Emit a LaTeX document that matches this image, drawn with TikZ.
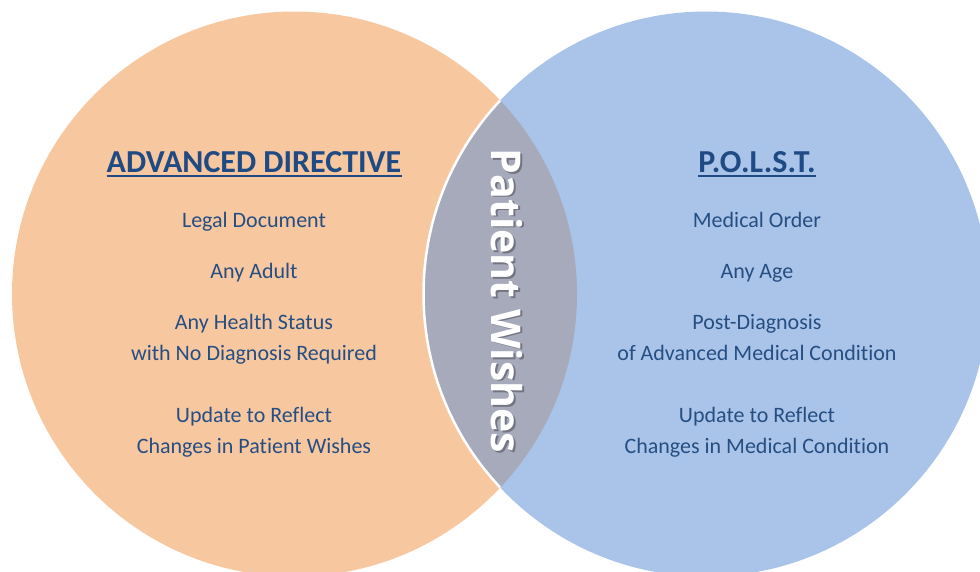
\documentclass[tikz,border=0pt]{standalone}
\usepackage{fontspec}
\setmainfont{Carlito}[Ligatures=NoCommon]
\newfontfamily\wishfont{Open Sans}
\definecolor{adfill}{HTML}{F7C8A0}
\definecolor{polstfill}{HTML}{A9C4E8}
\definecolor{lensfill}{HTML}{A6AABB}
\definecolor{titleblue}{HTML}{1F4A84}
\definecolor{bodyblue}{HTML}{264E82}
\begin{document}
\begin{tikzpicture}[x=1pt,y=-1pt,
  head/.style={font=\fontsize{32}{38}\selectfont\bfseries, text=titleblue, inner sep=0pt, anchor=base},
  item/.style={font=\fontsize{22}{26}\selectfont, text=bodyblue, inner sep=0pt, anchor=base},
  uline/.style={draw=titleblue, line width=2.2pt},
  wish/.style={font=\wishfont\bfseries\fontsize{41}{48}\selectfont, inner sep=0pt, rotate=-90, anchor=center}]
\clip (0,0) rectangle (980,571);
\coordinate (lc) at (294.5,294);
\coordinate (rc) at (706,294);
% the two sets
\fill[adfill] (lc) circle[radius=282.5pt];
\fill[polstfill] (rc) circle[radius=282.5pt];
% overlap with its white rim
\begin{scope}
  \clip (lc) circle[radius=282.5pt];
  \fill[lensfill] (rc) circle[radius=282.5pt];
  \draw[white, line width=2.5pt] (rc) circle[radius=282.5pt];
\end{scope}
% left column
\node[head] (adtitle) at (254,172) {ADVANCED DIRECTIVE};
\draw[uline] ([yshift=-4pt]adtitle.base west) -- ([yshift=-4pt]adtitle.base east);
\node[item] (ad1) at (254,227) {Legal Document};
\node[item] (ad2) at (254,278) {Any Adult};
\node[item] (ad3) at (254,329) {Any Health Status};
\node[item] (ad4) at (254,360) {with No Diagnosis Required};
\node[item] (ad5) at (254,422) {Update to Reflect};
\node[item] (ad6) at (254,453) {Changes in Patient Wishes};
% right column
\node[head] (ptitle) at (757,172) {P.O.L.S.T.};
\draw[uline] ([yshift=-4pt]ptitle.base west) -- ([yshift=-4pt]ptitle.base east);
\node[item] (p1) at (757,227) {Medical Order};
\node[item] (p2) at (757,278) {Any Age};
\node[item] (p3) at (757,329) {Post-Diagnosis};
\node[item] (p4) at (757,360) {of Advanced Medical Condition};
\node[item] (p5) at (757,422) {Update to Reflect};
\node[item] (p6) at (757,453) {Changes in Medical Condition};
% shared label
\node[wish, text=black, opacity=0.3] (wishshadow) at (508.5,302.5) {Patient Wishes};
\node[wish, text=white] (wishes) at (507,301) {Patient Wishes};
\end{tikzpicture}
\end{document}
